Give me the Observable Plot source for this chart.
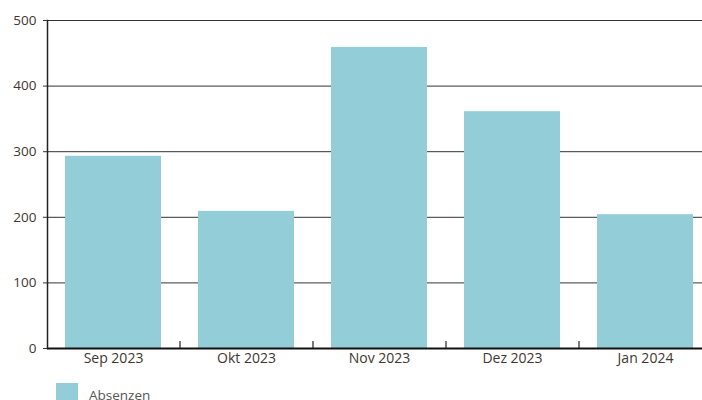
<!DOCTYPE html>
<html>
<head>
<meta charset="utf-8">
<script src="https://cdn.jsdelivr.net/npm/d3@7"></script>
<script src="https://cdn.jsdelivr.net/npm/@observablehq/plot@0.6"></script>
<style>
  html, body { margin: 0; padding: 0; background: #fff; overflow: hidden; width: 702px; height: 400px; }
  #chart svg { overflow: hidden; }
  .legend { position: absolute; left: 56px; top: 383px; display: flex; align-items: flex-start; font-family: "Open Sans", sans-serif; font-size: 13.5px; color: #555; }
  .legend .sw { width: 22px; height: 18px; background: #92cdd8; margin-right: 11px; }
  .legend span { line-height: 13px; margin-top: 6px; }
</style>
</head>
<body>
<div id="chart"></div>
<div class="legend"><div class="sw"></div><span>Absenzen</span></div>
<script>
const months = ["Sep 2023", "Okt 2023", "Nov 2023", "Dez 2023", "Jan 2024"];
const absenzen = [293, 209, 459, 361, 204];
const yTicks = [0, 100, 200, 300, 400, 500];
const seriesName = "Absenzen";

const data = months.map((m, i) => ({month: m, value: absenzen[i], series: seriesName}));

const width = 702, marginLeft = 47, marginRight = -9;
const step = (width - marginRight - marginLeft) / (months.length - 0.278 + 2 * 0.135);
const textColor = "#3e3630";

const chart = Plot.plot({
  width,
  height: 372,
  marginLeft,
  marginRight,
  marginTop: 20,
  marginBottom: 24,
  style: {fontFamily: "'Open Sans', sans-serif", fontSize: "13px", color: textColor, background: "#fff"},
  x: {domain: months, paddingInner: 0.278, paddingOuter: 0.135, label: null},
  y: {domain: [0, 500], ticks: yTicks, label: null},
  marks: [
    Plot.ruleY(yTicks.filter(d => d > 0), {stroke: "#333", strokeWidth: 1}),
    Plot.barY(data, {x: "month", y: "value", fill: "#92cdd8"}),
    Plot.ruleY([0], {stroke: "#111", strokeWidth: 2}),
    Plot.frame({anchor: "left", stroke: "#222", strokeWidth: 1.5}),
    Plot.ruleX(months.slice(1), {x: d => d, dx: -step / 2, y1: 0, y2: 0, insetTop: -7, stroke: "#222", strokeWidth: 1.2}),
    Plot.axisY({ticks: yTicks, tickSize: 4, tickPadding: 7, stroke: "#333", fill: textColor, fontSize: 13.5}),
    Plot.axisX({tickSize: 0, tickPadding: 5, fill: textColor, fontSize: 14})
  ]
});
document.getElementById("chart").appendChild(chart);
</script>
</body>
</html>
